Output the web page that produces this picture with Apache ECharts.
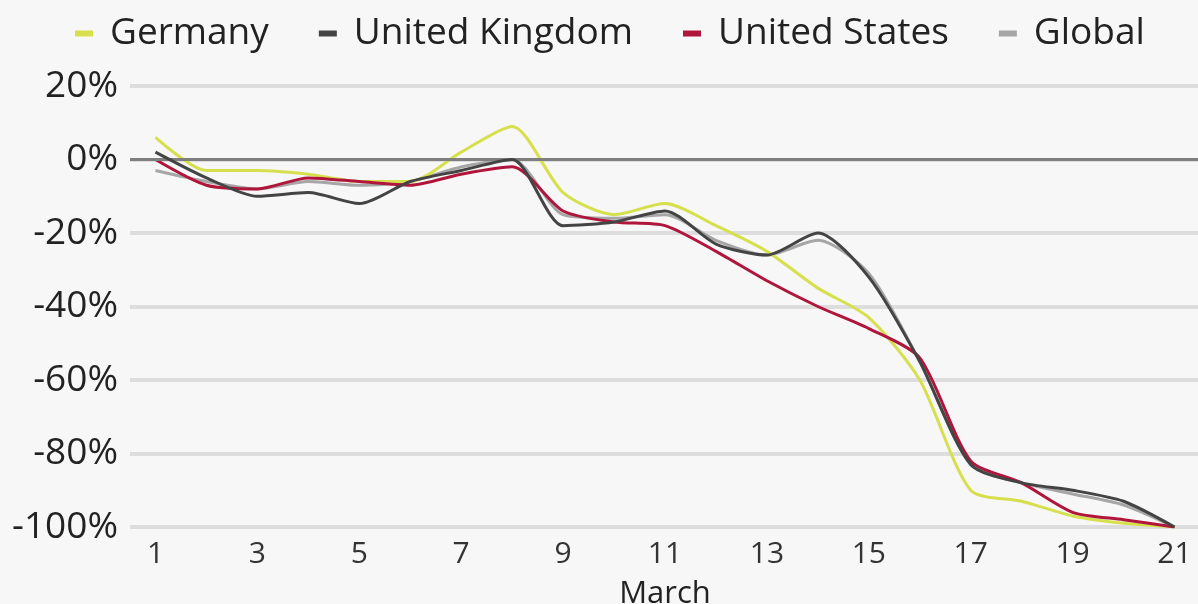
<!DOCTYPE html>
<html>
<head>
<meta charset="utf-8">
<script src="https://cdn.jsdelivr.net/npm/echarts@6/dist/echarts.min.js"></script>
<style>
html,body{margin:0;padding:0;background:#f7f7f7;}
#chart{width:1198px;height:604px;}
</style>
</head>
<body>
<div id="chart"></div>
<script>
var days = ['1','2','3','4','5','6','7','8','9','10','11','12','13','14','15','16','17','18','19','20','21'];
var yTicks = [20, 0, -20, -40, -60, -80, -100];
var germany = [6, -3, -3, -4, -6, -6, 2, 9, -9, -15, -12, -18, -25, -35, -43, -60, -90, -93, -97, -99, -100];
var unitedKingdom = [2, -5, -10, -9, -12, -6, -3, 0, -18, -17, -14, -23, -26, -20, -32, -55, -83, -88, -90, -93, -100];
var unitedStates = [0, -7, -8, -5, -6, -7, -4, -2, -14, -17, -18, -25, -33, -40, -46, -54, -82, -88, -96, -98, -100];
var globalVals = [-3, -6, -8, -6, -7, -6, -2, 0, -15, -16, -15, -22, -26, -22, -31, -55, -83, -88, -91, -94, -100];

var chart = echarts.init(document.getElementById('chart'));
var font = 'Open Sans';
function line(name, data, color, z) {
  return {
    name: name, type: 'line', data: data, smooth: 0.25, symbol: 'none', z: z,
    lineStyle: {color: color, width: 3}, itemStyle: {color: color}
  };
}
chart.setOption({
  backgroundColor: '#f7f7f7',
  animation: false,
  legend: {
    top: 10, left: 70, itemGap: 50, itemWidth: 18, itemHeight: 6, icon: 'rect',
    textStyle: {fontFamily: font, fontSize: 37, color: '#222', padding: [0, 0, 0, 12]},
    data: ['Germany', 'United Kingdom', 'United States', 'Global']
  },
  grid: {left: 130, right: -2, top: 86, bottom: 77, outerBoundsMode: 'none', containLabel: false},
  xAxis: {
    type: 'category', data: days, boundaryGap: true,
    name: 'March', nameLocation: 'middle', nameGap: 52,
    nameTextStyle: {fontFamily: font, fontSize: 31, color: '#222'},
    axisLine: {show: false}, axisTick: {show: false},
    axisLabel: {interval: 1, fontFamily: font, fontSize: 30, color: '#333', margin: 12}
  },
  yAxis: {
    type: 'value', min: -100, max: 20, interval: 20,
    axisLine: {show: false}, axisTick: {show: false},
    axisLabel: {formatter: function(v){ return v + '%'; }, fontFamily: font, fontSize: 37, color: '#222', margin: 12},
    splitLine: {lineStyle: {color: '#dddddd', width: 4}}
  },
  series: [
    line('Global', globalVals, '#a6a6a6', 2),
    line('Germany', germany, '#d6e04c', 3),
    line('United States', unitedStates, '#b0163c', 4),
    line('United Kingdom', unitedKingdom, '#444444', 5),
    {
      type: 'line', data: [], silent: true, z: 1,
      markLine: {silent: true, symbol: 'none', label: {show: false},
        lineStyle: {color: '#7f7f7f', width: 3, type: 'solid'}, data: [{yAxis: yTicks[1]}]}
    }
  ]
});
</script>
</body>
</html>
